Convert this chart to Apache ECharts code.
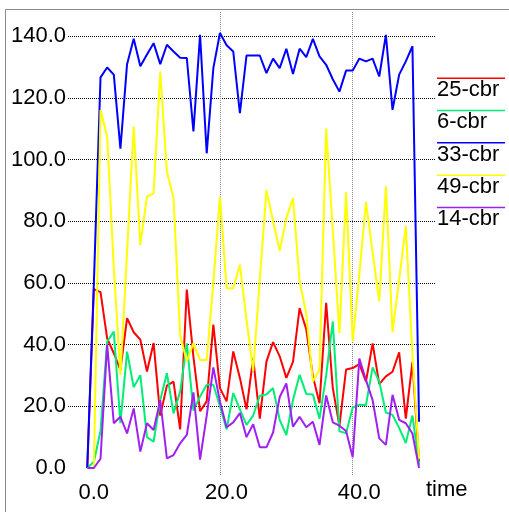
<!DOCTYPE html>
<html>
<head>
<meta charset="utf-8">
<script src="https://cdn.jsdelivr.net/npm/echarts@6/dist/echarts.min.js"></script>
<style>
html, body { margin: 0; padding: 0; background: #fff; }
#chart { width: 509px; height: 512px; }
</style>
</head>
<body>
<div id="chart"></div>
<script>
var times = [0,1,2,3,4,5,6,7,8,9,10,11,12,13,14,15,16,17,18,19,20,21,22,23,24,25,26,27,28,29,30,31,32,33,34,35,36,37,38,39,40,41,42,43,44,45,46,47,48,49,50];
var cbr25 = [0,58,57,42,37.2,31.8,48.6,44,41.6,31.3,40.5,17,26.7,28,12.5,57.8,36,18.4,21.6,46.5,25.9,21.6,37.8,29.2,19,35.6,16,34.5,40.8,36.2,29.2,34.4,51.8,45,29.7,21,53.5,25.9,13.7,31.9,32.4,33.7,28,40.4,27.2,29.7,31.2,37.5,16,34.3,2];
var cbr6 = [0,2,12,41,44.2,14.5,37.7,26.2,30.1,10,8.5,22,30.7,17.7,24.7,40.4,18.6,23.2,27,27,20,12.5,24.3,19,14,17,23.4,23.8,25.9,15.6,10.7,22,30.2,24,23.8,16,30,47.5,11.9,11.3,19.6,20.5,20.4,32.6,28,18,17.2,13,8.1,17,1];
var cbr33 = [0,60,126.6,129.8,127.5,103.5,130.9,139.1,130.2,134,137.7,130.9,137.2,135,133,132.9,109.1,140.4,102,129.6,141,137,135,115,133.7,133.7,133.7,128,132.7,129.6,135.9,127.7,135.9,133.2,139.1,133.4,130.7,126,122,128.8,128.8,132.7,131.8,132.7,126.9,140.4,116.1,127.5,131.8,136.7,15];
var cbr49 = [0,0,116,107.5,65,30.2,70,110.7,72.3,88,89,128.5,96,87.5,43,34.6,40.5,35,35,60,88,58.3,58.3,65.9,48,31.5,61,90,80,70.4,81,87.5,60.5,50,28,32,110,77,43.7,89.4,41,63,86.2,70,54,91.3,44,61,78.5,36.7,3];
var cbr14 = [0,0,3,40,14.5,16.6,11.2,19.3,5.3,14.5,12.3,22,3.1,4.2,8,10.7,24.5,2.7,17,32.6,21.5,13.2,14.8,17.8,10,14.2,6.7,6.7,11.5,23,27.4,13.4,16.6,13.2,15,7.5,23.5,14.8,13.7,12,3.5,35.5,28.5,22,9.6,7.5,23.7,15.6,14.5,11.2,0];

var names = ['25-cbr', '6-cbr', '33-cbr', '49-cbr', '14-cbr'];
var colors = ['#ff0000', '#00ee76', '#0000ff', '#ffff00', '#a020f0'];
var values = [cbr25, cbr6, cbr33, cbr49, cbr14];
var xLabels = [0, 20, 40];
var xGrid = [20, 40];
var yLabels = [0, 20, 40, 60, 80, 100, 120, 140];
var yGrid = [20, 40, 60, 80, 100, 120, 140];

var font = "'Liberation Sans', Arial, sans-serif";

function pairs(vals) {
	return times.map(function (t, i) { return [t, vals[i]]; });
}

var series = names.map(function (n, i) {
	return {
		name: n,
		type: 'line',
		data: pairs(values[i]),
		showSymbol: false,
		symbol: 'none',
		color: colors[i],
		lineStyle: { width: 2, color: colors[i] },
		animation: false
	};
});

var myChart = echarts.init(document.getElementById('chart'));
myChart.setOption({
	backgroundColor: '#fff',
	animation: false,
	grid: { left: 68, right: 74, top: 12, bottom: 37, containLabel: false, outerBoundsMode: 'none' },
	graphic: [{
		type: 'rect',
		shape: { x: 5.5, y: 9.5, width: 700, height: 700 },
		style: { fill: 'none', stroke: '#8a8a8a', lineWidth: 1 },
		silent: true
	}, {
		// axis name placed under the plot's right end, like the reference
		type: 'text',
		left: 426,
		top: 479,
		style: { text: 'time', font: "22px 'Liberation Sans', Arial, sans-serif", fill: '#000' },
		silent: true
	}],
	legend: [{
		data: names,
		orient: 'vertical',
		left: 437,
		top: 77.5,
		padding: 0,
		icon: 'rect',
		itemWidth: 68,
		itemHeight: 1.5,
		itemGap: 30.8,
		formatter: function () { return ''; },
		textStyle: { fontSize: 1, lineHeight: 1 },
		selectedMode: false
	}, {
		data: names.map(function (n) { return { name: n, icon: 'none' }; }),
		orient: 'vertical',
		left: 432,
		top: 79,
		padding: 0,
		itemWidth: 0,
		itemHeight: 22,
		itemGap: 10.3,
		textStyle: { fontFamily: font, fontSize: 22, lineHeight: 22, color: '#000' },
		selectedMode: false
	}],
	xAxis: {
		type: 'value',
		min: -2.9,
		max: 52.4,
		axisLine: { show: false },
		axisTick: { show: false, customValues: xGrid },
		axisLabel: {
			customValues: xLabels,
			fontFamily: font, fontSize: 22, color: '#000', margin: 7,
			padding: [0, 0, 0, 13],
			formatter: function (v) { return v.toFixed(1); }
		},
		splitLine: { show: true, lineStyle: { type: 'dotted', color: '#888', width: 1 } }
	},
	yAxis: {
		type: 'value',
		min: -2.27,
		max: 147.8,
		axisLine: { show: false },
		axisTick: { show: false, customValues: yGrid },
		axisLabel: {
			customValues: yLabels,
			fontFamily: font, fontSize: 22, color: '#000', margin: 2,
			formatter: function (v) { return v.toFixed(1); }
		},
		splitLine: { show: true, lineStyle: { type: 'dotted', color: '#000', width: 1 } }
	},
	series: series
});
</script>
</body>
</html>
